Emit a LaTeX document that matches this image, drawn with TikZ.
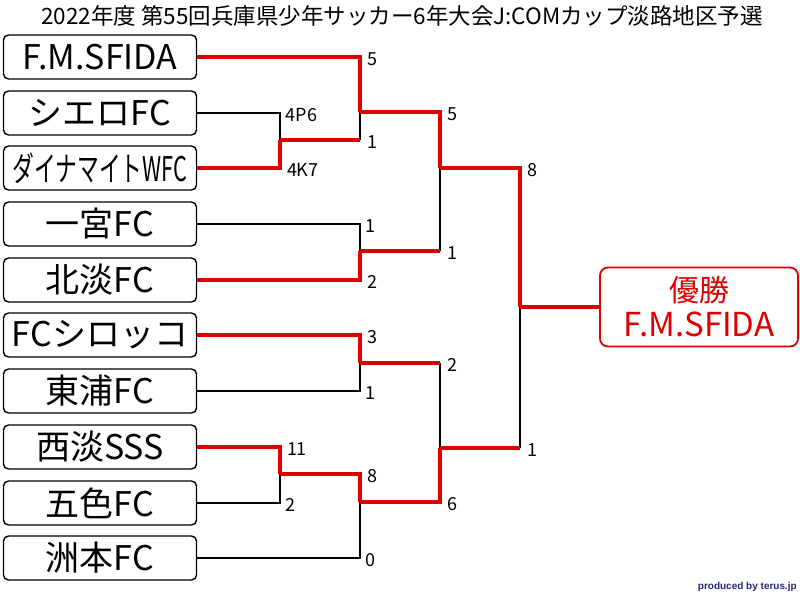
\documentclass[tikz,border=0pt]{standalone}
\usepackage{fontspec}
\setmainfont{Noto Sans CJK JP}
\newfontfamily\creditfont{Liberation Sans}
\definecolor{winred}{RGB}{220,0,0}
\definecolor{creditblue}{RGB}{40,40,120}
\tikzset{
  team/.style={draw, rounded corners=5pt, line width=1.4pt, minimum width=193pt,
    minimum height=44pt, inner sep=0pt, font=\fontsize{34}{34}\selectfont},
  lose/.style={line width=1.8pt, black},
  win/.style={line width=4pt, winred},
  score/.style={anchor=west, inner sep=0pt, xshift=5pt, yshift=-2pt, text=black,
    font=\fontsize{18}{18}\selectfont},
}

\begin{document}
\begin{tikzpicture}[x=1pt, y=-1pt]
    \useasboundingbox (0,0) rectangle (800,595);

    \node[font=\fontsize{22.5}{22.5}\selectfont] (title) at (402,16)
         {2022年度 第55回兵庫県少年サッカー6年大会J:COMカップ淡路地区予選};

    % teams
    \node[team] (t1)  at (100,57)  {F.M.SFIDA};
    \node[team] (t2)  at (100,113) {シエロFC};
    \node[team] (t3)  at (100,168) {\scalebox{0.64}[1]{ダイナマイトWFC}};
    \node[team] (t4)  at (100,224) {一宮FC};
    \node[team] (t5)  at (100,280) {北淡FC};
    \node[team] (t6)  at (100,335) {FCシロッコ};
    \node[team] (t7)  at (100,391) {東浦FC};
    \node[team] (t8)  at (100,447) {西淡SSS};
    \node[team] (t9)  at (100,503) {五色FC};
    \node[team] (t10) at (100,558) {洲本FC};

    \node[draw=winred, line width=1.8pt, rounded corners=8pt, minimum width=198pt,
          minimum height=79pt, inner sep=0pt, text=winred, align=center,
          font=\fontsize{33}{35}\selectfont] (champ) at (699,307)
         {{\fontsize{30}{35}\selectfont 優勝}\\F.M.SFIDA};

    % match points
    \coordinate (m1)  at (280,140);
    \coordinate (m2)  at (360,112);
    \coordinate (m3)  at (360,251);
    \coordinate (m4)  at (440,168);
    \coordinate (m5)  at (360,363);
    \coordinate (m6)  at (280,474);
    \coordinate (m7)  at (360,502);
    \coordinate (m8)  at (440,448);
    \coordinate (fin) at (520,307);

    % losers
    \draw[lose] (t2.east)  -| node[score]{4P6} (m1);
    \draw[lose] (m1 -| m2) -- (m2);
    \draw[lose] (t4.east)  -| node[score]{1} (m3);
    \draw[lose] (m3 -| m4) -- (m4);
    \draw[lose] (t7.east)  -| node[score]{1} (m5);
    \draw[lose] (t9.east)  -| node[score]{2} (m6);
    \draw[lose] (t10.east) -| node[score]{0} (m7);
    \draw[lose] (m5 -| m8) -- (m8);
    \draw[lose] (m8 -| fin) -- (fin);

    % winners
    \draw[win] (t3.east) -| node[score]{4K7} (m1);
    \draw[win] (m1) -- (m1 -| m2) node[score]{1};
    \draw[win] (t1.east) -| node[score]{5} (m2);
    \draw[win] (t5.east) -| node[score]{2} (m3);
    \draw[win] (m3) -- (m3 -| m4) node[score]{1};
    \draw[win] (m2)      -| node[score]{5} (m4);
    \draw[win] (t6.east) -| node[score]{3} (m5);
    \draw[win] (m5) -- (m5 -| m8) node[score]{2};
    \draw[win] (t8.east) -| node[score]{11} (m6);
    \draw[win] (m6)      -| node[score]{8} (m7);
    \draw[win] (m7)      -| node[score]{6} (m8);
    \draw[win] (m8) -- (m8 -| fin) node[score]{1};
    \draw[win] (m4)      -| node[score]{8} (fin);
    \draw[win] (fin) -- (champ.west);

    \node[anchor=south east, inner sep=0pt, text=creditblue,
          font=\creditfont\bfseries\fontsize{10}{10}\selectfont] (credit) at (797,592)
         {produced by terus.jp};
\end{tikzpicture}
\end{document}
